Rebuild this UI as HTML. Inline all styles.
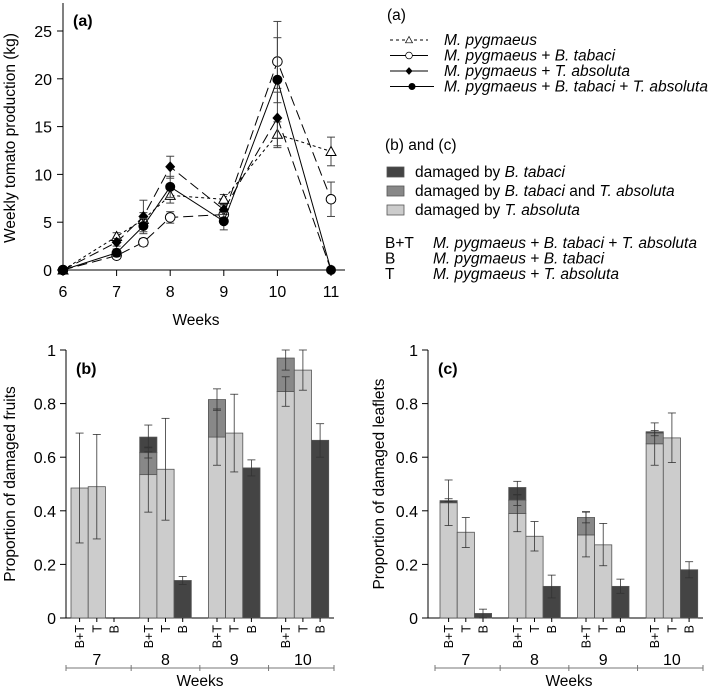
<!DOCTYPE html>
<html><head><meta charset="utf-8"><style>
body{margin:0;background:#fff;width:709px;height:690px;overflow:hidden}
svg{display:block;font-family:"Liberation Sans",sans-serif}
</style></head><body>
<svg id="fig" width="709" height="690" viewBox="0 0 709 690"></svg>
<script>
// ---- Panel (a) data ----
const aWeeks = [6, 7, 7.5, 8, 9, 10, 11];
const aMp   = [0, 3.5, 5.3, 7.8, 7.4, 14.2, 12.4];
const aMpLo = [0, 3.1, 4.6, 7.0, 6.9, 12.8, 10.9];
const aMpHi = [0, 3.9, 6.0, 8.6, 7.9, 15.5, 13.9];
const aMb   = [0, 1.5, 2.9, 5.5, 5.8, 21.8, 7.4];
const aMbLo = [0, 1.2, 2.5, 4.9, 5.4, 19.0, 5.6];
const aMbHi = [0, 1.8, 3.3, 6.1, 6.2, 26.0, 9.2];
const aMt   = [0, 2.9, 5.6, 10.8, 6.3, 15.9, 0];
const aMtLo = [0, 2.5, 4.0, 9.6, 5.8, 13.0, 0];
const aMtHi = [0, 3.3, 7.3, 11.9, 6.8, 18.6, 0];
const aMbt  = [0, 1.8, 4.6, 8.7, 5.1, 19.9, 0];
const aMbtLo= [0, 1.4, 3.8, 7.6, 4.2, 17.5, 0];
const aMbtHi= [0, 2.2, 5.4, 9.8, 6.0, 24.3, 0];
const aYTicks = [0, 5, 10, 15, 20, 25];
const aXTicks = [6, 7, 8, 9, 10, 11];

// ---- Panel (b) data: groups weeks 7..10, bars B+T, T, B ----
const barWeeks = ["7", "8", "9", "10"];
const barCats = ["B+T", "T", "B"];
const bLight = [[0.485, 0.49, 0], [0.535, 0.555, 0], [0.675, 0.69, 0], [0.845, 0.925, 0]];
const bMid   = [[0, 0, 0], [0.082, 0, 0], [0.14, 0, 0], [0.125, 0, 0]];
const bDark  = [[0, 0, 0], [0.058, 0, 0.14], [0, 0, 0.56], [0, 0, 0.663]];
const bErr = [
  [[0.28,0.69],[0.295,0.685]],
  [[0.395,0.62],[0.597,0.638],[0.635,0.72],[0.365,0.745],[0.125,0.155]],
  [[0.57,0.78],[0.775,0.855],[0.545,0.835],[0.53,0.59]],
  [[0.79,0.9],[0.925,1.0],[0.85,1.0],[0.6,0.725]]];
const bErrX = [[0,1],[0,0,0,1,2],[0,0,1,2],[0,0,1,2]];
// ---- Panel (c) data ----
const cLight = [[0.43, 0.32, 0], [0.39, 0.305, 0], [0.31, 0.273, 0], [0.65, 0.672, 0]];
const cMid   = [[0, 0, 0], [0.05, 0, 0], [0.065, 0, 0], [0.04, 0, 0]];
const cDark  = [[0.008, 0, 0.017], [0.047, 0, 0.118], [0, 0, 0.118], [0.005, 0, 0.18]];
const cErr = [
  [[0.345,0.515],[0.435,0.445],[0.263,0.375],[0,0.033]],
  [[0.322,0.46],[0.42,0.46],[0.46,0.51],[0.25,0.36],[0.075,0.16]],
  [[0.228,0.395],[0.355,0.397],[0.195,0.353],[0.092,0.145]],
  [[0.57,0.728],[0.68,0.70],[0.58,0.765],[0.15,0.21]]];
const cErrX = [[0,0,1,2],[0,0,0,1,2],[0,0,1,2],[0,0,1,2]];
const barYTicks = [0, 0.2, 0.4, 0.6, 0.8, 1];
const barYLabels = ["0", "0.2", "0.4", "0.6", "0.8", "1"];

const NS = "http://www.w3.org/2000/svg";
const svg = document.getElementById("fig");
function el(tag, attrs, parent, txt) {
  const e = document.createElementNS(NS, tag);
  for (const k in attrs) e.setAttribute(k, attrs[k]);
  if (txt !== undefined) e.textContent = txt;
  (parent || svg).appendChild(e);
  return e;
}
function grp(name) {
  const g = el("g", {});
  
  
  return g;
}

// ---------- Panel (a) ----------
const ax = v => 63 + (v - 6) * 53.6;
const ay = v => 270 - v * 9.56;
const gA = grp("panel-a");
el("line", {x1:63, y1:3, x2:63, y2:270, stroke:"#000", "stroke-width":1}, gA);
el("line", {x1:63, y1:270, x2:345, y2:270, stroke:"#000", "stroke-width":1}, gA);
aYTicks.forEach(t => {
  el("line", {x1:57, y1:ay(t), x2:63, y2:ay(t), stroke:"#000"}, gA);
  const tx = el("text", {x:52, y:ay(t)+6, "text-anchor":"end", "font-size":16}, gA, String(t));
  
  
});
aXTicks.forEach(t => {
  el("line", {x1:ax(t), y1:270, x2:ax(t), y2:276, stroke:"#000"}, gA);
  const tx = el("text", {x:ax(t), y:297, "text-anchor":"middle", "font-size":16}, gA, String(t));
  
  
});
el("text", {x:196, y:325, "text-anchor":"middle", "font-size":15.5,  }, gA, "Weeks");
el("text", {transform:"translate(15,138) rotate(-90)", "text-anchor":"middle", "font-size":15.5,  }, gA, "Weekly tomato production (kg)");
el("text", {x:73, y:26, "font-size":16, "font-weight":"bold",  }, gA, "(a)");

function series(vals, lo, hi, dash, marker, name) {
  const g = el("g", {}, gA);
  
  
  const pts = aWeeks.map((w, i) => ax(w) + "," + ay(vals[i])).join(" ");
  el("polyline", {points:pts, fill:"none", stroke:"#000", "stroke-width":1, "stroke-dasharray":dash}, g);
  aWeeks.forEach((w, i) => {
    if (hi[i] - lo[i] > 0) {
      const x = ax(w);
      el("line", {x1:x, y1:ay(lo[i]), x2:x, y2:ay(hi[i]), stroke:"#444"}, g);
      el("line", {x1:x-4, y1:ay(lo[i]), x2:x+4, y2:ay(lo[i]), stroke:"#444"}, g);
      el("line", {x1:x-4, y1:ay(hi[i]), x2:x+4, y2:ay(hi[i]), stroke:"#444"}, g);
    }
    drawMarker(g, ax(w), ay(vals[i]), marker);
  });
}
function drawMarker(g, x, y, m) {
  if (m === "tri") el("polygon", {points:`${x},${y-5} ${x-5},${y+4} ${x+5},${y+4}`, fill:"#fff", stroke:"#000"}, g);
  else if (m === "ocirc") el("circle", {cx:x, cy:y, r:4.8, fill:"#fff", stroke:"#000"}, g);
  else if (m === "diam") el("polygon", {points:`${x},${y-5.5} ${x+5},${y} ${x},${y+5.5} ${x-5},${y}`, fill:"#000"}, g);
  else el("circle", {cx:x, cy:y, r:5, fill:"#000"}, g);
}
series(aMp, aMpLo, aMpHi, "3,3", "tri", "series-m-pygmaeus");
series(aMb, aMbLo, aMbHi, "10,5", "ocirc", "series-mp-b-tabaci");
series(aMt, aMtLo, aMtHi, "10,5", "diam", "series-mp-t-absoluta");
series(aMbt, aMbtLo, aMbtHi, "", "fcirc", "series-mp-b-tabaci-t-absoluta");

// ---------- Legend ----------
const gL = grp("legend");
const T = (x, y, html, name, size) => {
  const t = el("text", {x:x, y:y, "font-size":size || 15.5}, gL);
  t.innerHTML = html;
  
  
  return t;
};
T(387, 20, "(a)", "legend-a-title");
const legA = [
  ["3,3", "tri", "<tspan font-style='italic'>M. pygmaeus</tspan>"],
  ["", "ocirc", "<tspan font-style='italic'>M. pygmaeus</tspan> + <tspan font-style='italic'>B. tabaci</tspan>"],
  ["", "diam", "<tspan font-style='italic'>M. pygmaeus</tspan> + <tspan font-style='italic'>T. absoluta</tspan>"],
  ["", "fcirc", "<tspan font-style='italic'>M. pygmaeus</tspan> + <tspan font-style='italic'>B. tabaci</tspan> + <tspan font-style='italic'>T. absoluta</tspan>"]];
legA.forEach((d, i) => {
  const y = 40 + i * 15.5;
  const x1 = i === 3 ? 390 : 390, x2 = i === 3 ? 434 : 428;
  el("line", {x1:x1, y1:y, x2:x2, y2:y, stroke:"#000", "stroke-dasharray":d[0]}, gL);
  const g = el("g", {transform:`translate(${(x1+x2)/2},${y}) scale(0.7) translate(${-(x1+x2)/2},${-y})`}, gL);
  drawMarker(g, (x1+x2)/2, y, d[1]);
  T(444, y + 5, d[2], "legend-entry-a");
});
T(385, 150, "(b) and (c)", "legend-bc-title");
const legB = [["#444", "damaged by <tspan font-style='italic'>B. tabaci</tspan>"],
  ["#888", "damaged by <tspan font-style='italic'>B. tabaci</tspan> and <tspan font-style='italic'>T. absoluta</tspan>"],
  ["#ccc", "damaged by <tspan font-style='italic'>T. absoluta</tspan>"]];
legB.forEach((d, i) => {
  const y = 172 + i * 19;
  el("rect", {x:387, y:y-5, width:17, height:10, fill:d[0], stroke:"#555", "stroke-width":0.8}, gL);
  T(415, y + 5, d[1], "legend-entry-bc");
});
const legC = [["B+T", "<tspan font-style='italic'>M. pygmaeus</tspan> + <tspan font-style='italic'>B. tabaci</tspan> + <tspan font-style='italic'>T. absoluta</tspan>"],
  ["B", "<tspan font-style='italic'>M. pygmaeus</tspan> + <tspan font-style='italic'>B. tabaci</tspan>"],
  ["T", "<tspan font-style='italic'>M. pygmaeus</tspan> + <tspan font-style='italic'>T. absoluta</tspan>"]];
legC.forEach((d, i) => {
  const y = 248 + i * 15.5;
  T(385, y, d[0], "legend-abbrev");
  T(433, y, d[1], "legend-abbrev-desc");
});

// ---------- Bar panels ----------
function barPanel(name, axX, axEnd, brStart, groupStart, light, mid, dark, errs, errX, ytitle, titleX, label) {
  const g = grp(name);
  const by = v => 618 - v * 268;
  const bw = 17.2, gs = 68.7;
  const bx = (gi, bi) => groupStart + gi * gs + bi * bw;
  el("line", {x1:axX, y1:350, x2:axX, y2:618, stroke:"#000"}, g);
  el("line", {x1:axX, y1:618, x2:axEnd, y2:618, stroke:"#000"}, g);
  barYTicks.forEach((t, i) => {
    el("line", {x1:axX-6, y1:by(t), x2:axX, y2:by(t), stroke:"#000"}, g);
    const tx = el("text", {x:axX-10, y:by(t)+6, "text-anchor":"end", "font-size":16}, g, barYLabels[i]);
    
    
  });
  el("text", {transform:`translate(${titleX},484) rotate(-90)`, "text-anchor":"middle", "font-size":15.5,  }, g, ytitle);
  el("text", {x:axX+10, y:374, "font-size":16, "font-weight":"bold",  }, g, label);
  barWeeks.forEach((w, gi) => {
    barCats.forEach((c, bi) => {
      const x = bx(gi, bi);
      let base = 0;
      [[light, "#ccc"], [mid, "#888"], [dark, "#444"]].forEach(([arr, col]) => {
        const v = arr[gi][bi];
        if (v > 0) {
          const r = el("rect", {x:x, y:by(base+v), width:bw, height:by(base)-by(base+v), fill:col, stroke:"#555", "stroke-width":0.8}, g);
          
          
          base += v;
        }
      });
      el("line", {x1:x+bw/2, y1:618, x2:x+bw/2, y2:622, stroke:"#000"}, g);
      const lt = el("text", {transform:`translate(${x+bw/2+4.5},625) rotate(-90)`, "text-anchor":"end", "font-size":12.5}, g, c);
      
      
    });
    errs[gi].forEach((e, k) => {
      const x = bx(gi, errX[gi][k]) + bw/2;
      el("line", {x1:x, y1:by(e[0]), x2:x, y2:by(e[1]), stroke:"#333", "stroke-width":0.8}, g);
      el("line", {x1:x-4, y1:by(e[0]), x2:x+4, y2:by(e[0]), stroke:"#333", "stroke-width":0.8}, g);
      el("line", {x1:x-4, y1:by(e[1]), x2:x+4, y2:by(e[1]), stroke:"#333", "stroke-width":0.8}, g);
    });
    const cx = groupStart + gi * gs + 1.5 * bw;
    const wt = el("text", {x:cx, y:665, "text-anchor":"middle", "font-size":16}, g, w);
    
    
  });
  el("line", {x1:brStart, y1:668, x2:axEnd, y2:668, stroke:"#777"}, g);
  [0, 1, 2, 3, 4].forEach(i => {
    const x = i === 0 ? brStart : i === 4 ? axEnd : groupStart + i * gs - (gs - 3*bw)/2;
    el("line", {x1:x, y1:665, x2:x, y2:671, stroke:"#777"}, g);
  });
  el("text", {x:(brStart+axEnd)/2, y:686, "text-anchor":"middle", "font-size":15.5,  }, g, "Weeks");
}
barPanel("panel-b", 66, 334, 66, 71, bLight, bMid, bDark, bErr, bErrX, "Proportion of damaged fruits", 15, "(b)");
barPanel("panel-c", 428, 703, 435, 440, cLight, cMid, cDark, cErr, cErrX, "Proportion of damaged leaflets", 384, "(c)");
</script>
</body></html>
